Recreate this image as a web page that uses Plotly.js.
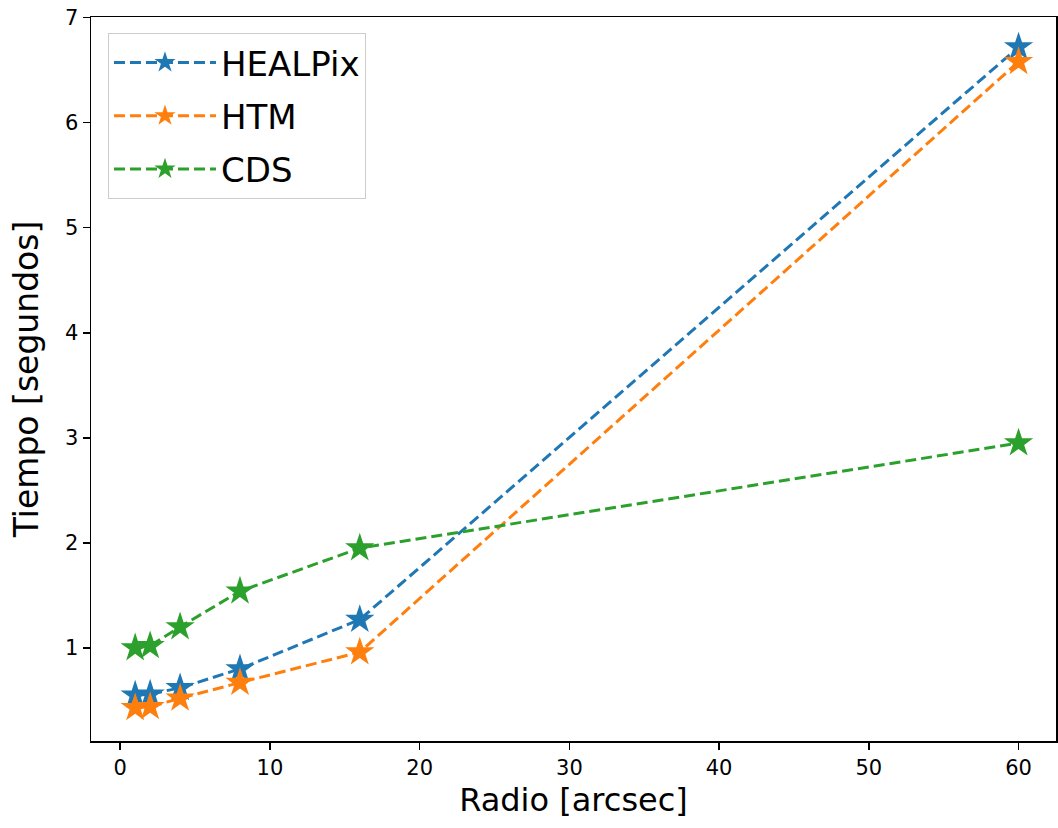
<!DOCTYPE html>
<html>
<head>
<meta charset="utf-8">
<script src="https://cdn.plot.ly/plotly-3.0.1.min.js"></script>
<style>html,body{margin:0;padding:0;background:#fff;}#chart{width:1058px;height:828px;}</style>
</head>
<body>
<div id="chart"></div>
<script>
const radio = [1, 2, 4, 8, 16, 60];
const healpix = [0.55, 0.56, 0.62, 0.80, 1.27, 6.72];
const htm = [0.43, 0.44, 0.52, 0.67, 0.96, 6.58];
const cds = [1.00, 1.02, 1.20, 1.54, 1.95, 2.95];
const seriesNames = ["HEALPix", "HTM", "CDS"];
const xTicks = [0, 10, 20, 30, 40, 50, 60];
const yTicks = [1, 2, 3, 4, 5, 6, 7];

const colors = ["#1f77b4", "#ff7f0e", "#2ca02c"];
const values = [healpix, htm, cds];

const traces = values.map((v, i) => ({
  x: radio, y: v, name: seriesNames[i], type: "scatter", mode: "lines+markers",
  legendgroup: "g" + i,
  line: {color: colors[i], width: 3, dash: "11px,5px"},
  marker: {symbol: "star", size: 22, color: colors[i], line: {width: 0}}
}));

const layout = {
  width: 1058, height: 828,
  margin: {l: 91, r: 2, t: 17, b: 87},
  paper_bgcolor: "#fff", plot_bgcolor: "#fff",
  font: {family: "DejaVu Sans", color: "#000"},
  showlegend: true,
  legend: {x: 0.0176, y: 0.978, xanchor: "left", yanchor: "top", traceorder: "grouped",
    bordercolor: "#cccccc", borderwidth: 1, bgcolor: "rgba(255,255,255,0.8)",
    font: {size: 34, family: "DejaVu Sans", color: "#000"}, itemwidth: 102, tracegroupgap: 6},
  xaxis: {
    range: [-1.95, 62.5], tickvals: xTicks, ticktext: xTicks.map(String),
    showgrid: false, zeroline: false, showline: true, linecolor: "#000", linewidth: 1.5, mirror: true,
    ticks: "outside", ticklen: 7, tickwidth: 1.5, tickcolor: "#000",
    tickfont: {size: 21, family: "DejaVu Sans"},
    title: {text: "Radio [arcsec]", font: {size: 32, family: "DejaVu Sans"}, standoff: 10}
  },
  yaxis: {
    range: [0.114, 7.006], tickvals: yTicks, ticktext: yTicks.map(String),
    showgrid: false, zeroline: false, showline: true, linecolor: "#000", linewidth: 1.5, mirror: true,
    ticks: "outside", ticklen: 7, tickwidth: 1.5, tickcolor: "#000",
    tickfont: {size: 21, family: "DejaVu Sans"},
    title: {text: "Tiempo [segundos]", font: {size: 33, family: "DejaVu Sans"}, standoff: 16}
  }
};

Plotly.newPlot("chart", traces, layout, {displayModeBar: false, staticPlot: true});
</script>
</body>
</html>
